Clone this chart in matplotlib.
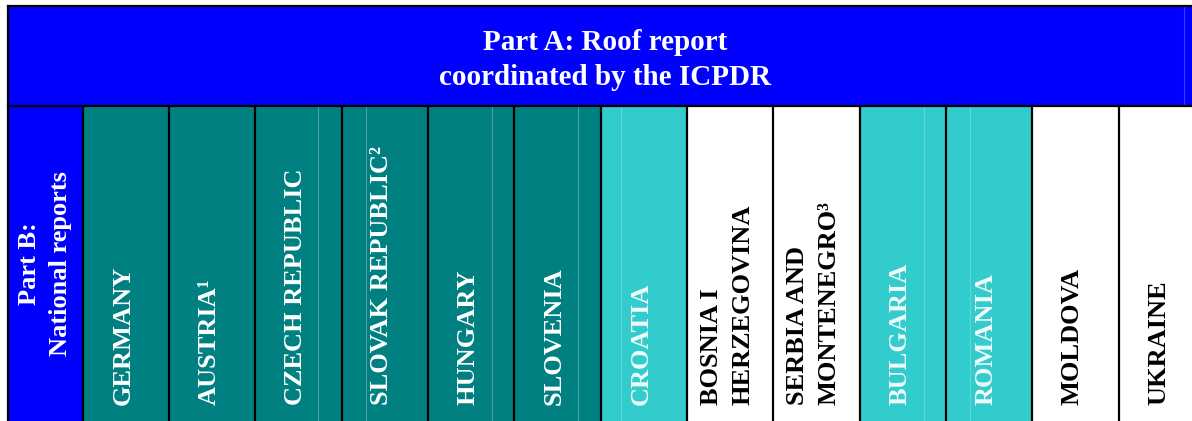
import matplotlib.pyplot as plt

# table content
title = "Part A: Roof report\ncoordinated by the ICPDR"
side_label = "Part B:\nNational reports"
countries = ["GERMANY", "AUSTRIA\u00b9", "CZECH REPUBLIC", "SLOVAK REPUBLIC\u00b2",
             "HUNGARY", "SLOVENIA", "CROATIA", "BOSNIA I\nHERZEGOVINA",
             "SERBIA AND\nMONTENEGRO\u00b3", "BULGARIA", "ROMANIA", "MOLDOVA", "UKRAINE"]
groups = ["eu", "eu", "eu", "eu", "eu", "eu", "acc", "other", "other",
          "acc", "acc", "other", "other"]

fill = {"eu": "#008080", "acc": "#33CCCC", "other": "#FFFFFF"}
seam = {"eu": "#4aa3a3", "acc": "#5cd8d8", "other": "#FFFFFF"}
txt = {"eu": "#FFFFFF", "acc": "#F0FAFA", "other": "#000000"}
# faint rendering seams inside some cells (column index, offset in px)
seams = [(2, 63), (3, 24), (4, 64), (5, 64), (6, 20), (9, 64), (10, 24)]

W, H = 1192, 421
left, top, mid = 8, 6, 106
x0 = 82.7
col_w = 86.33

fig = plt.figure(figsize=(W / 100, H / 100), dpi=100)
ax = fig.add_axes([0, 0, 1, 1])
ax.set_xlim(0, W)
ax.set_ylim(H, 0)
ax.axis("off")

font = dict(family="Liberation Serif", weight="bold")

# header band
ax.bar(left, mid - top, width=W - left + 20, bottom=top, align="edge",
       color="#0000FF", edgecolor="none")
ax.plot([1184, 1184], [top + 1, mid - 1], color="#3a3aff", lw=0.8)
ax.text(605, 60, title, color="white", fontsize=21,
        ha="center", va="center", linespacing=1.4, **font)

# side cell
ax.bar(left, H - mid, width=x0 - left, bottom=mid, align="edge",
       color="#0000FF", edgecolor="none")
ax.text((left + x0) / 2, (mid + H) / 2, side_label, color="white", fontsize=19,
        rotation=90, ha="center", va="center", multialignment="center",
        linespacing=1.45, **font)

# country columns
xs = [x0 + col_w * i for i in range(len(countries))]
ax.bar(xs, [H - mid] * len(xs), width=col_w, bottom=mid, align="edge",
       color=[fill[g] for g in groups], edgecolor="none")
for i, off in seams:
    ax.plot([xs[i] + off] * 2, [mid + 1, H], color=seam[groups[i]], lw=0.8)
for x, name, g in zip(xs, countries, groups):
    ax.text(x + col_w / 2 - 3, 405, name, color=txt[g], fontsize=19,
            rotation=90, ha="center", va="bottom", multialignment="left",
            linespacing=1.45, **font)

# grid lines
lw = 1.6
ax.plot([left, W], [top, top], color="black", lw=lw)
ax.plot([left, W], [mid, mid], color="black", lw=lw)
ax.plot([left, left], [top, H], color="black", lw=lw)
for x in xs:
    ax.plot([x, x], [mid, H], color="black", lw=lw)

fig.savefig("out.png", dpi=100)
